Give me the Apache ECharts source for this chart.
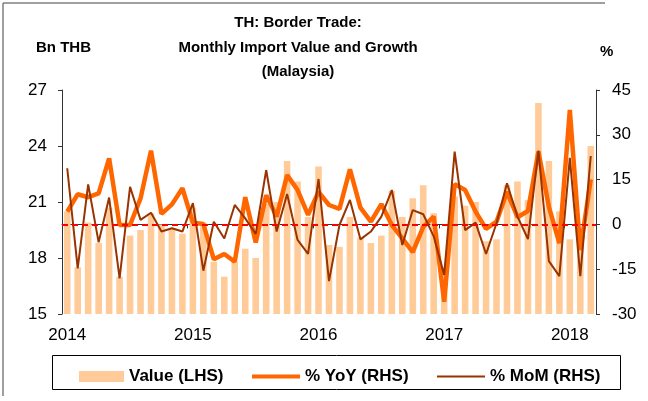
<!DOCTYPE html>
<html>
<head>
<meta charset="utf-8">
<script src="https://cdn.jsdelivr.net/npm/echarts@6/dist/echarts.min.js"></script>
<style>
html,body{margin:0;padding:0;background:#fff;}
#c{width:648px;height:401px;}
</style>
</head>
<body>
<div id="c"></div>
<script>
// ---- data ----
var months = [];
var startYear = 2014;
for (var k = 0; k < 51; k++) {
  var yy = startYear + Math.floor(k / 12);
  var mm = (k % 12) + 1;
  months.push(yy + '-' + (mm < 10 ? '0' + mm : '' + mm));
}
var valueLHS = [
  20.5, 17.5, 19.9, 18.8, 20.7, 17.0, 19.2, 19.5, 20.4, 19.8, 19.6, 19.3,
  20.7, 19.9, 17.8, 17.0, 17.8, 18.5, 18.0, 20.9, 21.0, 23.2, 22.1, 20.2,
  22.9, 18.7, 18.6, 20.2, 19.1, 18.8, 19.2, 21.6, 20.2, 21.2, 21.9, 20.4,
  17.5, 21.3, 20.8, 21.0, 18.9, 19.0, 21.9, 22.1, 21.1, 26.3, 23.2, 20.5,
  19.0, 19.0, 24.0
];
var yoyRHS = [
  4.3, 10.1, 9.1, 10.4, 22.1, -0.2, -0.2, 8.7, 24.7, 3.5, 6.7, 12.1,
  0.6, 0.1, -11.7, -9.9, -12.5, 9.1, -6.1, 9.8, 2.6, 16.5, 11.5, 3.2,
  10.9, 6.5, 5.2, 18.4, 5.6, 0.9, 6.8, -0.2, -4.7, -9.3, -0.8, 2.6,
  -25.9, 13.5, 11.5, 4.3, -1.5, 0.9, 10.9, 2.4, 4.5, 24.4, 5.9, -6.3,
  38.3, -8.6, 15.1
];
var momRHS = [
  18.8, -14.7, 13.4, -6.0, 9.0, -18.1, 12.6, 1.5, 3.9, -2.4, -1.3, -2.4,
  7.1, -15.5, 0.9, -4.7, 6.5, 2.0, -3.2, 18.2, -2.4, 10.2, -5.2, -9.9,
  15.2, -19.0, -0.2, 8.2, -5.0, -2.4, 2.6, 11.5, -6.9, 4.8, 3.4, -4.0,
  -16.9, 24.4, -1.9, 0.6, -9.9, 0.4, 13.8, 2.6, -4.9, 24.7, -12.3, -17.3,
  22.3, -17.3, 22.9
];
var zeroLineRHS = 0;
var leftTicks = {min: 15, max: 27, interval: 3};
var rightTicks = {min: -30, max: 45, interval: 15};
var seriesNames = ['Value (LHS)', '% YoY (RHS)', '% MoM (RHS)'];
var titleLines = ['TH: Border Trade:', 'Monthly Import Value and Growth', '(Malaysia)'];

// ---- chart ----
var FONT = 'Liberation Sans, Arial, sans-serif';
var chart = echarts.init(document.getElementById('c'), null, {renderer: 'canvas'});
var yearTick = function (idx) { return idx % 12 === 0; };
var legendText = {fontFamily: FONT, fontWeight: 'bold', fontSize: 17, color: '#000'};

var option = {
  animation: false,
  backgroundColor: '#ffffff',
  title: {
    text: titleLines.join('\n'),
    left: 293,
    top: 6,
    textAlign: 'center',
    textStyle: {fontFamily: FONT, fontWeight: 'bold', fontSize: 15, lineHeight: 24.5, color: '#000'}
  },
  graphic: [
    {type: 'line', shape: {x1: 3, y1: 3, x2: 605, y2: 3},
     style: {stroke: '#7f7f7f', lineWidth: 1.5}, z: -1},
    {type: 'line', shape: {x1: 3, y1: 3, x2: 3, y2: 396},
     style: {stroke: '#7f7f7f', lineWidth: 1.5}, z: -1},
    {type: 'rect', left: 52, top: 355, shape: {width: 568, height: 34},
     style: {fill: '#fff', stroke: '#000', lineWidth: 1}, z: -1},
    {type: 'text', left: 36, top: 40,
     style: {text: 'Bn THB', font: 'bold 15px ' + FONT, fill: '#000'}},
    {type: 'text', left: 600, top: 44,
     style: {text: '%', font: 'bold 15px ' + FONT, fill: '#000'}}
  ],
  legend: [
    {data: [seriesNames[0]], left: 74, top: 363, itemWidth: 45, itemHeight: 11, icon: 'rect', itemGap: 0,
     textStyle: legendText},
    {data: [seriesNames[1]], left: 247, top: 363, itemWidth: 48, itemHeight: 4, icon: 'rect',
     textStyle: legendText},
    {data: [seriesNames[2]], left: 432, top: 363, itemWidth: 48, itemHeight: 2, icon: 'rect',
     textStyle: legendText}
  ],
  grid: {left: 62, right: 52, top: 90, bottom: 87, containLabel: false},
  xAxis: {
    type: 'category',
    data: months,
    boundaryGap: true,
    axisLine: {lineStyle: {color: '#333', width: 1}},
    axisTick: {show: true, interval: yearTick, length: 4, inside: false, lineStyle: {color: '#333'}},
    axisLabel: {
      interval: yearTick,
      formatter: function (v) { return v.slice(0, 4); },
      fontFamily: FONT, fontSize: 17, color: '#000', margin: 13
    },
    splitLine: {show: false}
  },
  yAxis: [
    {
      type: 'value', position: 'left',
      min: leftTicks.min, max: leftTicks.max, interval: leftTicks.interval,
      axisLine: {show: true, lineStyle: {color: '#333'}},
      axisTick: {show: true, length: 4, lineStyle: {color: '#333'}},
      axisLabel: {fontFamily: FONT, fontSize: 17, color: '#000', margin: 15},
      splitLine: {show: false}
    },
    {
      type: 'value', position: 'right',
      min: rightTicks.min, max: rightTicks.max, interval: rightTicks.interval,
      axisLine: {show: true, lineStyle: {color: '#333'}},
      axisTick: {show: true, length: 4, lineStyle: {color: '#333'}},
      axisLabel: {fontFamily: FONT, fontSize: 17, color: '#000', margin: 16},
      splitLine: {show: false}
    }
  ],
  series: [
    {
      name: seriesNames[0], type: 'bar', yAxisIndex: 0, data: valueLHS,
      barWidth: '63%',
      itemStyle: {color: '#FFCC99'}
    },
    {
      name: 'zero', type: 'line', yAxisIndex: 1, data: [],
      markLine: {
        silent: true, symbol: 'none', label: {show: false},
        lineStyle: {color: '#FF0000', type: [6, 4], width: 2},
        data: [{yAxis: zeroLineRHS}]
      }
    },
    {
      name: seriesNames[1], type: 'line', yAxisIndex: 1, data: yoyRHS,
      showSymbol: false, symbol: 'none',
      lineStyle: {color: '#FF6600', width: 4.5},
      itemStyle: {color: '#FF6600'}
    },
    {
      name: seriesNames[2], type: 'line', yAxisIndex: 1, data: momRHS,
      showSymbol: false, symbol: 'none',
      lineStyle: {color: '#993300', width: 2},
      itemStyle: {color: '#993300'}
    }
  ]
};
chart.setOption(option);
</script>
</body>
</html>
